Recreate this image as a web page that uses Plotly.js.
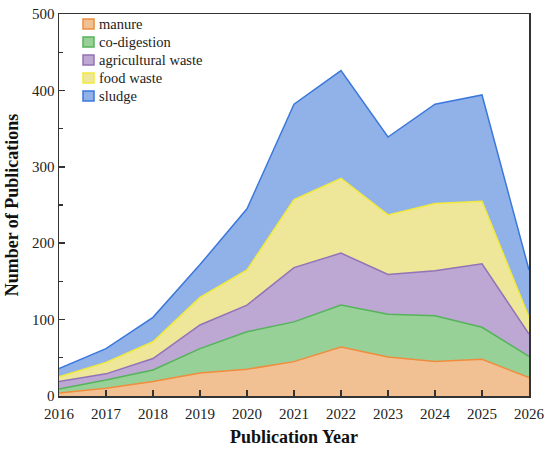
<!DOCTYPE html>
<html>
<head>
<meta charset="utf-8">
<script src="https://cdn.plot.ly/plotly-3.0.1.min.js"></script>
<style>html,body{margin:0;padding:0;background:#fff;}#chart{width:550px;height:451px;}</style>
</head>
<body>
<div id="chart"></div>
<script>
const years = [2016, 2017, 2018, 2019, 2020, 2021, 2022, 2023, 2024, 2025, 2026];
const manure = [4, 10, 19, 30, 35, 45, 64, 51, 45, 48, 24];
const coDigestion = [5, 11, 15, 32, 49, 52, 55, 56, 60, 42, 28];
const agriculturalWaste = [10, 8, 15, 31, 35, 71, 68, 52, 59, 83, 29];
const foodWaste = [6, 15, 22, 36, 46, 89, 98, 78, 88, 82, 22];
const sludge = [11, 18, 32, 43, 80, 125, 141, 102, 130, 139, 62];

const seriesNames = ['manure', 'co-digestion', 'agricultural waste', 'food waste', 'sludge'];
const seriesData = [manure, coDigestion, agriculturalWaste, foodWaste, sludge];
const fills = ['#F2C193', '#98D198', '#BCA8D2', '#EEE699', '#90B2E8'];
const lines = ['#F08C3C', '#55B35A', '#9272B8', '#F2EA3A', '#3C78DC'];

const traces = seriesNames.map((n, i) => ({
  x: years, y: seriesData[i], name: n, type: 'scatter', mode: 'lines',
  stackgroup: 'one', fillcolor: fills[i],
  line: {color: lines[i], width: 1.5}, showlegend: false
}));

const W = 550, H = 451, ML = 59, MR = 21, MT = 14, MB = 55;
const PW = W - ML - MR, PH = H - MT - MB;
const px = v => (v - ML) / PW;
const py = v => (H - MB - v) / PH;

const SERIF = 'Liberation Serif, Times New Roman, serif';
const font = {family: SERIF, color: '#222', size: 15};

// custom legend (square swatches like the reference)
const shapes = [], annotations = [];
seriesNames.forEach((n, i) => {
  const cy = 24 + i * 18;
  shapes.push({type: 'rect', xref: 'paper', yref: 'paper',
    x0: px(83), x1: px(94), y0: py(cy - 5), y1: py(cy + 5),
    fillcolor: fills[i], line: {color: lines[i], width: 1.5}});
  annotations.push({xref: 'paper', yref: 'paper', x: px(97), y: py(cy), xanchor: 'left', yanchor: 'middle',
    text: n, showarrow: false, font: {family: SERIF, size: 14.5, color: '#222'}});
});

const layout = {
  width: W, height: H,
  margin: {l: ML, r: MR, t: MT, b: MB},
  paper_bgcolor: '#fff', plot_bgcolor: '#fff',
  font: font,
  showlegend: false,
  shapes: shapes, annotations: annotations,
  xaxis: {
    range: [2016, 2026], dtick: 1, tick0: 2016,
    showline: true, linecolor: '#333', linewidth: 1.5, mirror: true,
    ticks: 'inside', ticklen: 6, tickwidth: 1.5, tickcolor: '#333',
    ticklabelstandoff: 3,
    showgrid: false, zeroline: false,
    tickfont: {family: SERIF, size: 15, color: '#222'},
    title: {text: '<b>Publication Year</b>', font: {family: SERIF, size: 18, color: '#111'}, standoff: 10}
  },
  yaxis: {
    range: [0, 500], dtick: 100,
    showline: true, linecolor: '#333', linewidth: 1.5, mirror: true,
    ticks: 'inside', ticklen: 6, tickwidth: 1.5, tickcolor: '#333',
    minor: {dtick: 50, ticks: 'inside', ticklen: 4, tickwidth: 1.2, tickcolor: '#333', showgrid: false},
    showgrid: false, zeroline: false,
    tickfont: {family: SERIF, size: 15, color: '#222'},
    title: {text: '<b>Number of Publications</b>', font: {family: SERIF, size: 18, color: '#111'}, standoff: 8}
  }
};
Plotly.newPlot('chart', traces, layout, {displayModeBar: false, staticPlot: true});
</script>
</body>
</html>
